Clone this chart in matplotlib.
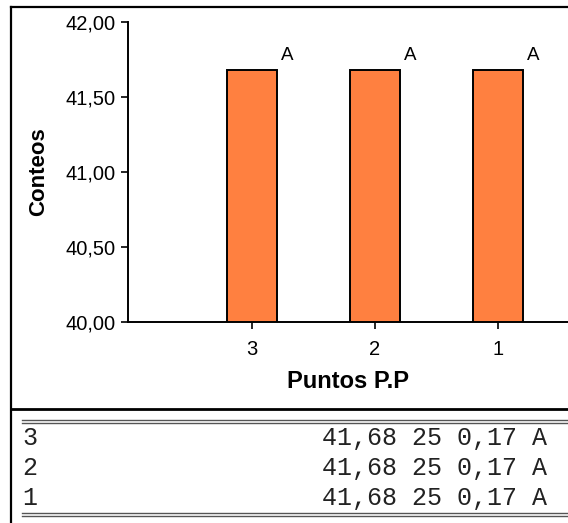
import matplotlib.pyplot as plt
from matplotlib.lines import Line2D

# datos
puntos = ["3", "2", "1"]
medias = [41.68, 41.68, 41.68]
n_obs = [25, 25, 25]
ee = [0.17, 0.17, 0.17]
letras = ["A", "A", "A"]
yticks = [40, 40.5, 41, 41.5, 42]

W, H = 568, 523
plt.rcParams['font.family'] = ['Liberation Sans', 'DejaVu Sans']

fig = plt.figure(figsize=(W / 100, H / 100), dpi=100)


def fx(x):
    return x / W


def fy(y):
    return 1 - y / H


def coma(v):
    return f"{v:.2f}".replace(".", ",")


ax = fig.add_axes([fx(128), fy(322), 1 - fx(128), fy(22) - fy(322)])
x = list(range(len(puntos)))
ax.bar(x, medias, width=0.41, color="#FF8040", edgecolor="black", linewidth=1.4)
for xi, m, l in zip(x, medias, letras):
    ax.text(xi + 0.285, m + 0.065, l, ha="center", va="baseline", fontsize=13.5)

ax.set_ylim(40, 42)
ax.set_xlim(-1.01, 2.57)
ax.set_yticks(yticks)
ax.set_yticklabels([coma(v) for v in yticks])
ax.set_xticks(x)
ax.set_xticklabels(puntos)
ax.tick_params(labelsize=14.5, length=5, width=1.2, colors="black")
ax.tick_params(axis="x", pad=8)
ax.tick_params(axis="y", pad=4)
for s in ["top", "right"]:
    ax.spines[s].set_visible(False)
for s in ["left", "bottom"]:
    ax.spines[s].set_linewidth(1.4)
ax.set_ylabel("Conteos", fontsize=16, fontweight="bold", labelpad=12)
ax.set_xlabel("Puntos P.P", fontsize=17, fontweight="bold", labelpad=8)

# marco
fig.add_artist(Line2D([fx(11), fx(11)], [fy(7), 0], color="black", lw=1.6))
fig.add_artist(Line2D([fx(11), 1], [fy(7), fy(7)], color="black", lw=1.6))
fig.add_artist(Line2D([fx(11), 1], [fy(409), fy(409)], color="black", lw=2))

# tabla
for yy in [420, 423, 513, 516]:
    fig.add_artist(Line2D([fx(22), 1], [fy(yy), fy(yy)], color="#555555", lw=1))

mono = ['Liberation Mono', 'DejaVu Sans Mono']
for i, (p, m, nn, e, l) in enumerate(zip(puntos, medias, n_obs, ee, letras)):
    yy = fy(438 + 30 * i)
    fig.text(fx(22), yy, p, family=mono, fontsize=18, va="center", color="#222222")
    fig.text(fx(322), yy, f"{coma(m)} {nn} {coma(e)} {l}", family=mono,
             fontsize=18, va="center", color="#222222")

fig.savefig("out.png", dpi=100)
